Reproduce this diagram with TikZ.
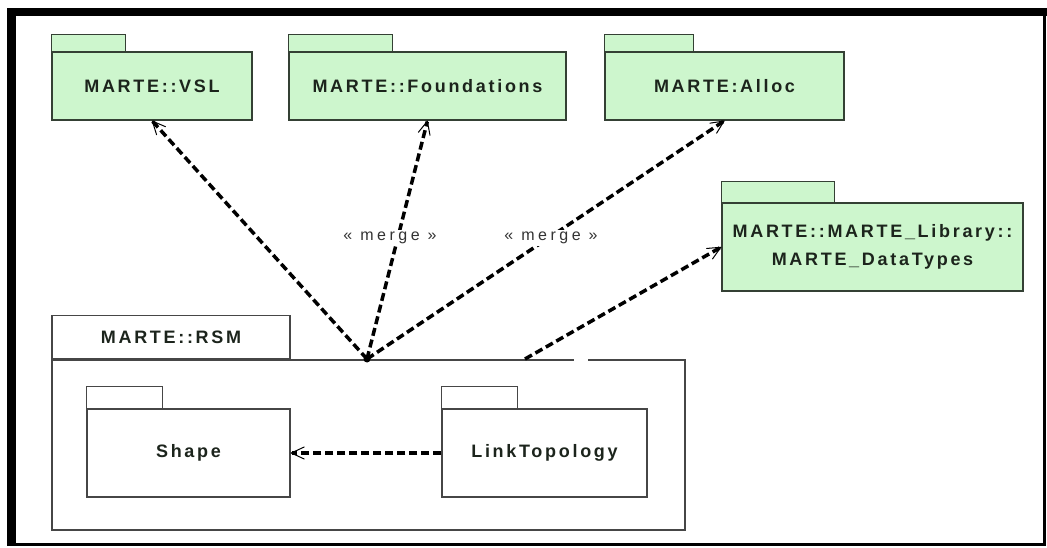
\documentclass[tikz,border=0pt]{standalone}
\usepackage{fontspec}
\usetikzlibrary{arrows.meta}
\newfontfamily\pkgfont[LetterSpace=15]{Liberation Sans}
\newfontfamily\stereofont[LetterSpace=22]{Liberation Sans}
\definecolor{pkggreen}{RGB}{205,246,205}
\definecolor{pkgedge}{RGB}{52,64,52}
\definecolor{boxedge}{RGB}{70,70,70}
\definecolor{inktext}{RGB}{28,36,28}
\tikzset{
  pkgname/.style={font=\pkgfont\bfseries\fontsize{18}{28}\selectfont, text=inktext, align=center},
  greenpkg/.style={pkgname, draw=pkgedge, fill=pkggreen, line width=1.4pt, inner sep=0pt},
  greentab/.style={draw=pkgedge, fill=pkggreen, line width=1.4pt},
  whitepkg/.style={pkgname, draw=boxedge, fill=white, line width=1.4pt, inner sep=0pt},
  whitetab/.style={draw=boxedge, fill=white, line width=1.4pt},
  dep/.style={draw=black, line width=3.5pt, dash pattern=on 8pt off 4pt,
    -{Straight Barb[length=13pt, width=12pt, line width=1pt, round]}},
  stereo/.style={font=\stereofont\fontsize{16}{18}\selectfont, text=black!80, fill=white, inner sep=2pt},
}
\begin{document}
\begin{tikzpicture}[x=1pt, y=-1pt]
\useasboundingbox (0,0) rectangle (1047,548);
% page frame
\fill[black] (7,8) rectangle (1047,16.5);
\fill[black] (7,8) rectangle (16,545.5);
\fill[black] (1043,8) rectangle (1045.5,545.5);
\fill[black] (7,543) rectangle (1045.5,545.5);

% imported packages
\node[greenpkg, minimum width=200, minimum height=68] (vsl) at (152,86) {MARTE::VSL};
\draw[greentab] (vsl.north west) rectangle ++(74,-17);
\node[greenpkg, minimum width=277, minimum height=68] (found) at (427.5,86) {MARTE::Foundations};
\draw[greentab] (found.north west) rectangle ++(104,-17);
\node[greenpkg, minimum width=239, minimum height=68] (alloc) at (724.5,86) {MARTE:Alloc};
\draw[greentab] (alloc.north west) rectangle ++(89,-17);
\node[greenpkg, minimum width=301, minimum height=88] (dtypes) at (872.5,247)
  {MARTE::MARTE\_Library::\\MARTE\_DataTypes};
\draw[greentab] (dtypes.north west) rectangle ++(113,-21);

% RSM package and its contents
\node[draw=boxedge, line width=1.4pt, minimum width=633, minimum height=170] (rsm) at (368.5,445) {};
\node[pkgname, draw=boxedge, line width=1.4pt, minimum width=238, minimum height=43, anchor=south west]
  (rsmtab) at (rsm.north west) {MARTE::RSM};
\draw[white, line width=2.5pt] (574,360) -- (588,360);

\node[whitepkg, minimum width=203, minimum height=88] (shape) at (188.5,453) {Shape};
\draw[whitetab] (shape.north west) rectangle ++(76,-22);
\node[whitepkg, minimum width=205, minimum height=88] (link) at (544.5,453) {LinkTopology};
\draw[whitetab] (link.north west) rectangle ++(76,-22);

% merge dependencies
\coordinate (hub) at (367,359);
\coordinate (dtsrc) at (525,359);
\draw[dep] (hub) -- (vsl.south);
\draw[dep] (hub) -- (found.south);
\draw[dep] (hub) -- (alloc.south);
\draw[dep] (dtsrc) -- (dtypes.west);
\draw[dep] (link.west) -- (shape.east);
\fill[black] (hub) circle (3.5);

\node[stereo] (m1) at (390,238) {« merge »};
\node[stereo] (m2) at (551,238) {« merge »};
\end{tikzpicture}
\end{document}
